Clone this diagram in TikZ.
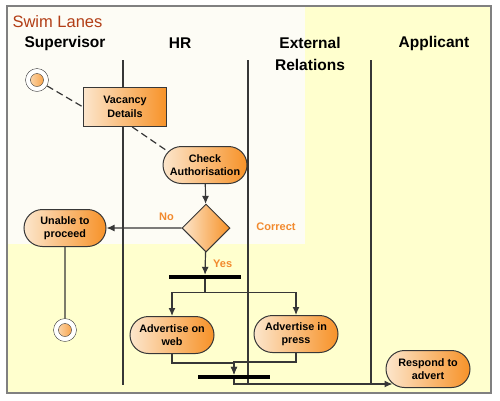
\documentclass[tikz,border=0pt]{standalone}
\usepackage{fontspec}
\setmainfont{Liberation Sans}
\usepackage{xcolor}
\usepackage{tikz}
\usetikzlibrary{calc}
\usetikzlibrary{shapes.geometric,shapes.misc,arrows.meta}

\definecolor{lanetitle}{RGB}{178,62,22}
\definecolor{guardorange}{RGB}{242,138,46}
\definecolor{actfill}{RGB}{247,146,40}
\definecolor{actlight}{RGB}{252,230,204}
\definecolor{paleyellow}{RGB}{255,255,206}
\definecolor{paper}{RGB}{253,252,245}
\definecolor{edge}{RGB}{55,55,55}
\definecolor{framegray}{RGB}{128,128,128}

\begin{document}
\begin{tikzpicture}[x=1pt,y=-1pt]
\tikzset{
    activity/.style={rounded rectangle, draw=edge, line width=1pt, left color=actlight, right color=actfill,
        minimum width=86pt, minimum height=37pt, inner sep=1pt, align=center,
        font=\fontsize{10.8}{13.5}\selectfont\bfseries},
    object/.style={rectangle, draw=edge, line width=1pt, left color=actlight, right color=actfill,
        minimum width=83pt, minimum height=39pt, inner sep=1pt, align=center,
        font=\fontsize{10.8}{13.5}\selectfont\bfseries},
    decision/.style={diamond, draw=edge, line width=1pt, left color=actlight, right color=actfill,
        minimum width=48pt, minimum height=48pt, inner sep=0pt},
    bar/.style={rectangle, fill=black, minimum width=72pt, minimum height=4pt, inner sep=0pt},
    pseudo/.style={circle, draw=edge, fill=white, minimum size=23pt, inner sep=0pt,
        path picture={\filldraw[draw=edge, left color=actlight, right color=actfill]
            (path picture bounding box.center) circle (6.5pt);}},
    wire/.style={draw=edge, line width=1.2pt},
    flow/.style={wire, -{Latex[length=8pt,width=7pt]}},
    header/.style={font=\fontsize{15.5}{22}\selectfont\bfseries, align=center},
    guard/.style={text=guardorange, font=\fontsize{11}{13}\selectfont\bfseries}
}
\useasboundingbox (0,0) rectangle (500,400);

% lanes
\fill[paleyellow] (7,6) rectangle (491,393);
\fill[paper] (7,6) rectangle (305,244);
\draw[framegray, line width=2pt] (7,6) rectangle (491,393);
\foreach \x in {123,248,371}
    \draw[wire] (\x,60) -- (\x,385);

\node[anchor=west, text=lanetitle, font=\fontsize{16.5}{20}\selectfont] (title) at (9,22) {Swim Lanes};
\node[header] (hsup) at (65,43) {Supervisor};
\node[header] (hhr) at (180,43) {HR};
\node[header] (hext) at (310,54) {External\\Relations};
\node[header] (happ) at (434,43) {Applicant};

% activities
\node[pseudo] (start) at (37,80) {};
\node[object] (vacancy) at (125,107) {Vacancy\\Details};
\node[activity] (check) at (205,165) {Check\\Authorisation};
\node[decision] (correct) at (206,228) {};
\node[activity, minimum width=84pt] (unable) at (65,228) {Unable to\\proceed};
\node[pseudo] (finish) at (65,330) {};
\node[bar] (fork) at (205,277) {};
\node[activity] (web) at (172,335) {Advertise on\\web};
\node[activity] (press) at (296,334) {Advertise in\\press};
\node[bar] (join) at (234,377) {};
\node[activity] (respond) at (428,369) {Respond to\\advert};
\node[guard] (ok) at (276,227) {Correct};

\draw[wire, dash pattern=on 7pt off 4pt] (start) -- (vacancy.west);
\draw[wire, dash pattern=on 7pt off 4pt] (vacancy.290) -- (check.160);
\draw[flow] (check) -- (correct);
\draw[flow] (correct) -- (unable) node[pos=0.2, above=3pt, guard]{No};
\draw[wire] (unable) -- (finish);
\draw[flow] (correct) -- (fork) node[midway, right=4pt, guard]{Yes};

\draw[flow] (fork.south) -- ++(0,13) -| (web);
\draw[flow] (fork.south) -- ++(0,13) -| (press);
\draw[flow] (web.south) -- ++(0,9) -| (join);
\draw[flow] (press.south) -- ++(0,9) -| (join);
\draw[flow] (join) |- ($(respond.west)+(7,15)$);

\end{tikzpicture}
\end{document}
